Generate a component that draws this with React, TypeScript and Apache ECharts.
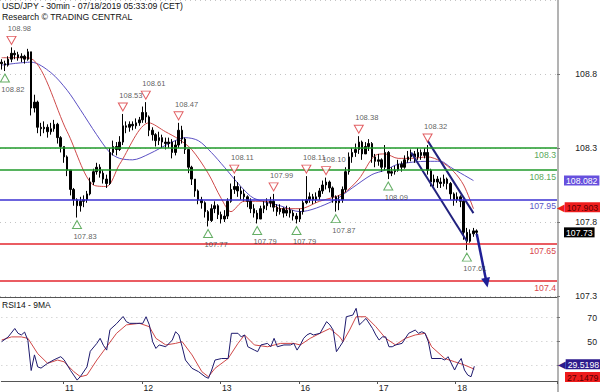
import React, { useEffect, useRef } from 'react';
import * as echarts from 'echarts';

const FONT = '"Liberation Sans", Arial, Helvetica, sans-serif';

// ---- x axis: hourly slots, day labels ----
const slotCount = 170;
const dayLabels = ['11', '12', '13', '16', '17', '18'];
const dayStartIdx = [19, 43, 67, 91, 115, 139];

// ---- price (USD/JPY), one bar per hour ----
const firstOpen = 108.88;
const closes = [
  108.87, 108.86, 108.9, 108.94, 108.93, 108.91, 108.92, 108.9, 108.95, 108.57,
  108.61, 108.44, 108.43, 108.44, 108.41, 108.43, 108.46, 108.37, 108.31, 108.24,
  108.15, 108.02, 107.95, 107.91, 107.94, 107.95, 107.99, 108.07, 108.14, 108.17,
  108.13, 108.09, 108.06, 108.27, 108.31, 108.29, 108.34, 108.45, 108.44, 108.46,
  108.45, 108.47, 108.49, 108.54, 108.51, 108.42, 108.39, 108.35, 108.37, 108.34,
  108.33, 108.34, 108.27, 108.32, 108.42, 108.36, 108.29, 108.17, 108.09, 108.01,
  107.95, 107.93, 107.87, 107.81, 107.89, 107.91, 107.85, 107.82, 107.84, 107.94,
  108.02, 108.04, 108.01, 107.99, 107.97, 107.94, 107.89, 107.86, 107.82, 107.89,
  107.91, 107.93, 107.94, 107.9, 107.87, 107.89, 107.86, 107.88, 107.86, 107.84,
  107.82, 107.87, 107.93, 107.95, 107.97, 107.95, 107.97, 108.01, 108.05, 108.07,
  108.03, 107.97, 107.93, 107.95, 108.02, 108.14, 108.24, 108.27, 108.29, 108.34,
  108.26, 108.31, 108.33, 108.24, 108.21, 108.22, 108.17, 108.27, 108.13, 108.14,
  108.15, 108.19, 108.17, 108.22, 108.24, 108.26, 108.24, 108.27, 108.25, 108.27,
  108.15, 108.07, 108.09, 108.07, 108.06, 108.09, 108.06, 107.99, 107.95, 107.97,
  107.94, 107.73, 107.67, 107.72, 107.74, 107.73,
];
const highs = [
  108.9, 108.89, 108.92, 108.98, 108.96, 108.95, 108.94, 108.93, 108.97, 108.95,
  108.66, 108.62, 108.47, 108.48, 108.46, 108.47, 108.49, 108.47, 108.38, 108.31,
  108.25, 108.15, 108.03, 107.96, 107.97, 107.98, 108.01, 108.1, 108.16, 108.2,
  108.19, 108.15, 108.12, 108.3, 108.35, 108.34, 108.38, 108.53, 108.48, 108.48,
  108.48, 108.5, 108.51, 108.58, 108.61, 108.52, 108.44, 108.4, 108.41, 108.39,
  108.37, 108.37, 108.36, 108.35, 108.47, 108.45, 108.37, 108.29, 108.18, 108.09,
  108.02, 107.97, 107.94, 107.88, 107.92, 107.94, 107.92, 107.87, 107.88, 107.96,
  108.06, 108.11, 108.07, 108.04, 108.02, 107.98, 107.96, 107.92, 107.88, 107.91,
  107.94, 107.96, 107.97, 107.99, 107.92, 107.92, 107.9, 107.91, 107.9, 107.88,
  107.86, 107.89, 107.95, 108.11, 108.0, 107.99, 108.0, 108.03, 108.08, 108.1,
  108.08, 108.04, 107.98, 107.98, 108.04, 108.17, 108.27, 108.3, 108.33, 108.38,
  108.35, 108.34, 108.36, 108.34, 108.26, 108.26, 108.23, 108.32, 108.28, 108.17,
  108.18, 108.22, 108.21, 108.25, 108.28, 108.29, 108.28, 108.3, 108.29, 108.3,
  108.32, 108.16, 108.12, 108.11, 108.1, 108.12, 108.1, 108.07, 108.0, 108.0,
  107.98, 107.95, 107.76, 107.75, 107.76, 107.75,
];
const lows = [
  108.83, 108.82, 108.85, 108.88, 108.9, 108.89, 108.88, 108.87, 108.89, 108.52,
  108.54, 108.4, 108.38, 108.4, 108.37, 108.39, 108.41, 108.33, 108.27, 108.2,
  108.11, 107.98, 107.91, 107.83, 107.87, 107.9, 107.93, 107.98, 108.05, 108.12,
  108.1, 108.06, 108.03, 108.05, 108.25, 108.25, 108.28, 108.32, 108.4, 108.41,
  108.42, 108.43, 108.45, 108.47, 108.47, 108.38, 108.35, 108.31, 108.32, 108.3,
  108.29, 108.3, 108.23, 108.25, 108.3, 108.33, 108.26, 108.13, 108.05, 107.97,
  107.92, 107.89, 107.83, 107.77, 107.8, 107.86, 107.82, 107.79, 107.8, 107.82,
  107.93, 107.99, 107.97, 107.95, 107.94, 107.9, 107.86, 107.83, 107.79, 107.82,
  107.86, 107.88, 107.9, 107.87, 107.84, 107.85, 107.83, 107.84, 107.83, 107.81,
  107.79, 107.8, 107.85, 107.92, 107.93, 107.92, 107.93, 107.95, 107.99, 108.02,
  108.0, 107.93, 107.87, 107.88, 107.93, 108.0, 108.12, 108.2, 108.24, 108.26,
  108.22, 108.26, 108.28, 108.2, 108.17, 108.18, 108.14, 108.15, 108.09, 108.11,
  108.12, 108.14, 108.14, 108.16, 108.2, 108.21, 108.2, 108.22, 108.22, 108.23,
  108.12, 108.04, 108.04, 108.03, 108.03, 108.04, 108.02, 107.95, 107.91, 107.93,
  107.9, 107.68, 107.61, 107.66, 107.7, 107.7,
];

// ---- moving averages on price, read at sample points [slot, value] ----
const redMa: [number, number][] = [
  [0, 108.91], [8, 108.91], [20, 108.41], [28, 108.05], [32, 108.04], [36, 108.19],
  [45, 108.47], [50, 108.41], [54, 108.36], [58, 108.29], [63, 108.13], [67, 107.96],
  [70, 107.87], [74, 107.94], [81, 107.94], [85, 107.89], [91, 107.89], [97, 107.94],
  [104, 107.99], [109, 108.09], [114, 108.25], [117, 108.26], [121, 108.23], [125, 108.23],
  [130, 108.24], [134, 108.21], [138, 108.14], [141, 108.05], [144, 107.89],
];
const blueMa: [number, number][] = [
  [0, 108.86], [9, 108.88], [15, 108.81], [20, 108.69], [24, 108.56], [29, 108.39],
  [33, 108.27], [36, 108.23], [40, 108.22], [45, 108.26], [52, 108.34], [56, 108.37],
  [60, 108.35], [64, 108.27], [68, 108.17], [73, 108.04], [77, 107.96], [85, 107.91],
  [91, 107.87], [101, 107.94], [107, 108.03], [113, 108.12], [117, 108.15], [121, 108.19],
  [130, 108.21], [134, 108.21], [137, 108.17], [144, 108.08],
];

// ---- support / resistance levels ----
const levels = [108.3, 108.15, 107.95, 107.65, 107.4];
const levelLineColors = ['#1f9a2a', '#1f9a2a', '#3b30d2', '#e3262e', '#e3262e'];
const levelTextColors = ['#5aa85a', '#5aa85a', '#5a55c6', '#d8464c', '#d8464c'];

// ---- swing highs / lows annotated ----
const swingHighs: [number, number][] = [
  [3, 108.98], [37, 108.53], [44, 108.61], [54, 108.47], [71, 108.11], [83, 107.99],
  [93, 108.11], [99, 108.1], [109, 108.38], [130, 108.32],
];
const swingLows: [number, number][] = [
  [1, 108.82], [23, 107.83], [63, 107.77], [78, 107.79], [90, 107.79], [102, 107.87],
  [118, 108.09], [142, 107.61],
];

// ---- channel and projection arrow ----
const channelTop: [number, number][] = [[130, 108.35], [144, 107.86]];
const channelBottom: [number, number][] = [[125, 108.27], [142, 107.67]];
const arrowFrom: [number, number] = [145, 107.72];
const arrowTo: [number, number] = [148, 107.39];

// ---- current values shown on the right ----
const lastClose = 107.73;
const blueMaLast = 108.082;
const redMaLast = 107.903;

// ---- RSI14 and its 9MA, read at sample points [slot, value] ----
const rsi14: [number, number][] = [
  [0, 50], [2, 54], [4, 61], [5, 57], [6, 55.6], [7, 58], [8, 51], [9, 26], [10, 39],
  [11, 29], [12, 28], [14, 32], [16, 35], [18, 37.5], [19, 35], [21, 26], [23, 18],
  [24, 21], [26, 29], [27, 42], [29, 48.6], [30, 52.8], [31, 47], [32, 43], [33, 60],
  [35, 65], [37, 71], [38, 66.7], [39, 65.3], [41, 65.3], [43, 65.3], [44, 70.8],
  [45, 64], [46, 50], [47, 44.4], [48, 47.3], [50, 45.8], [52, 51.4], [53, 58.3],
  [54, 55.6], [55, 45.8], [56, 34.7], [58, 27.8], [60, 25], [62, 20.8], [63, 19.5],
  [64, 26.4], [65, 34.7], [67, 36], [69, 36], [70, 57], [72, 57], [73, 54], [74, 55.6],
  [75, 45.8], [77, 43], [78, 41.7], [79, 47.3], [81, 48.6], [82, 45.8], [83, 52.8],
  [84, 45.8], [86, 47.3], [88, 47.3], [89, 48.6], [90, 43], [91, 47.3], [92, 52.8],
  [93, 55.6], [94, 57], [95, 55.6], [97, 57], [99, 66.7], [100, 64], [101, 59.7],
  [102, 41.7], [103, 45.8], [104, 50], [105, 70.8], [107, 72.2], [108, 77.8], [109, 64],
  [110, 66.7], [111, 69.4], [113, 61], [114, 55.6], [115, 51.4], [116, 54], [117, 54],
  [118, 45.8], [119, 45.8], [120, 47.3], [122, 48.6], [123, 52.8], [124, 57], [126, 59.7],
  [127, 57], [128, 58.3], [129, 57], [130, 50], [131, 36], [134, 36], [135, 34.7],
  [136, 37.5], [138, 26.4], [139, 32], [140, 36], [141, 26.4], [142, 22.2], [143, 20.8],
  [144, 29.5],
];
const rsiMa: [number, number][] = [
  [0, 51.4], [3, 54], [6, 54], [8, 52.8], [11, 40], [14, 32], [17, 34.7], [19, 33.3],
  [22, 25], [24, 20.8], [26, 22.2], [29, 34.7], [32, 45.8], [35, 57], [38, 64], [42, 65.3],
  [45, 62.5], [47, 52.8], [50, 47.3], [53, 48.6], [55, 50], [58, 39], [61, 25], [63, 20.8],
  [65, 27.8], [69, 36], [72, 48.6], [74, 55.6], [77, 47.3], [81, 45.8], [85, 48.6],
  [89, 48.6], [91, 47.3], [94, 52.8], [97, 57], [100, 61], [103, 54], [104, 50], [106, 59.7],
  [108, 70.8], [111, 70.8], [114, 62.5], [117, 52.8], [120, 47.3], [123, 52.8], [126, 55.6],
  [129, 57], [131, 45.8], [135, 36], [138, 33.3], [141, 30.6], [144, 27.1],
];
const rsiLast = 29.5198;
const rsiMaLast = 27.1479;
// the "30" tick label sits under the current-RSI box in the reference
const rsiHiddenTickLabels = [30];

const hiddenLine = { color: 'rgba(0,0,0,0)', width: 0, type: 'solid' };

const boxLabel = (text: string, bg: string, fg: string, arrow: boolean, offsetY = 0) => ({
  show: true,
  position: 'end',
  distance: arrow ? 0 : 7,
  offset: [0, offsetY],
  formatter: arrow ? `{a|◀}{b|${text}}` : `{b|${text}}`,
  rich: {
    a: { color: bg, fontSize: 10, fontFamily: 'DejaVu Sans', padding: [0, 0, 0, 0], lineHeight: 10 },
    b: { backgroundColor: bg, color: fg, fontSize: 8.7, fontFamily: FONT, padding: [1, 2, 0, 2], lineHeight: 9 },
  },
});

export default function App() {
  const ref = useRef<HTMLDivElement>(null);

  useEffect(() => {
    document.body.style.margin = '0';
    const chart = echarts.init(ref.current!, null, { renderer: 'svg' });

    const categories = Array.from({ length: slotCount }, (_, i) => 's' + i);
    const ohlc = closes.map((c, i) => [i === 0 ? firstOpen : closes[i - 1], c, lows[i], highs[i]]);

    const axisText = { fontSize: 8.7, color: '#222', fontFamily: FONT };

    const option: any = {
      animation: false,
      textStyle: { fontFamily: FONT },
      title: [
        { text: 'USD/JPY - 30min - 07/18/2019 05:33:09 (CET)', left: 2, top: 1, padding: 0, textStyle: { fontSize: 8.7, fontWeight: 'normal', color: '#111', fontFamily: FONT } },
        { text: 'Research © TRADING CENTRAL', left: 2, top: 12.5, padding: 0, textStyle: { fontSize: 8.7, fontWeight: 'normal', color: '#111', fontFamily: FONT } },
        { text: 'RSI14 - 9MA', left: 2, top: 300.5, padding: 0, textStyle: { fontSize: 8.5, fontWeight: 'normal', color: '#111', fontFamily: FONT } },
      ],
      grid: [
        // price panel
        { left: 0, right: 42, top: -4, bottom: 96 },
        // RSI panel: visible axis (30..70)
        { left: 0, right: 42, top: 317.7, bottom: 26.3 },
        // RSI panel: same pixel scale, wider range (10..90) for the plotted lines
        { left: 0, right: 42, top: 293.7, bottom: 2.3 },
      ],
      xAxis: [
        {
          type: 'category', gridIndex: 0, data: categories, boundaryGap: true, offset: 1,
          axisLine: { show: true, onZero: false, lineStyle: { color: '#555', width: 1 } },
          axisTick: { show: false }, axisLabel: { show: false }, splitLine: { show: false },
        },
        {
          type: 'category', gridIndex: 1, data: categories, boundaryGap: true, offset: 15.3,
          axisLine: { show: true, onZero: false, lineStyle: { color: '#555', width: 1 } },
          axisTick: { show: true, length: 3, interval: (i: number) => dayStartIdx.includes(i), lineStyle: { color: '#555' } },
          axisLabel: {
            interval: 0, margin: 2, align: 'left', ...axisText,
            formatter: (_v: string, i: number) => {
              const k = dayStartIdx.indexOf(i);
              return k >= 0 ? dayLabels[k] : '';
            },
          },
          splitLine: { show: false },
        },
        { type: 'category', gridIndex: 2, data: categories, boundaryGap: true, show: false },
      ],
      yAxis: [
        {
          type: 'value', gridIndex: 0, position: 'right', min: 107.3, max: 109.3, interval: 0.5,
          axisLine: { show: false },
          axisTick: { show: true, length: 3, lineStyle: { color: '#777' } },
          axisLabel: { formatter: (v: number) => v.toFixed(1), showMaxLabel: false, align: 'right', margin: 40, ...axisText },
          splitLine: { show: true, lineStyle: { color: '#c4c4c4', type: [1, 4], width: 1 } },
        },
        {
          type: 'value', gridIndex: 1, position: 'right', min: 30, max: 70, interval: 20,
          axisLine: { show: false },
          axisTick: { show: true, length: 3, lineStyle: { color: '#777' } },
          axisLabel: { formatter: (v: number) => (rsiHiddenTickLabels.includes(v) ? '' : String(v)), align: 'right', margin: 40, ...axisText },
          splitLine: { show: true, lineStyle: { color: '#c4c4c4', type: [1, 4], width: 1 } },
        },
        { type: 'value', gridIndex: 2, position: 'right', min: 10, max: 90, show: false, splitLine: { show: false } },
      ],
      graphic: [
        { type: 'line', shape: { x1: 558, y1: 0, x2: 558, y2: 392 }, style: { stroke: '#9a9a9a', lineWidth: 1.5 }, silent: true },
      ],
      series: [
        {
          type: 'line', xAxisIndex: 0, yAxisIndex: 0, data: blueMa, symbol: 'none', smooth: 0.3, silent: true, clip: false,
          lineStyle: { color: '#5b50c4', width: 1 }, z: 2,
          markLine: {
            silent: true, symbol: 'none', animation: false,
            data: [{ yAxis: blueMaLast, lineStyle: hiddenLine, label: boxLabel('108.082', '#6650dd', '#ffffff', false) }],
          },
        },
        {
          type: 'line', xAxisIndex: 0, yAxisIndex: 0, data: redMa, symbol: 'none', smooth: 0.3, silent: true, clip: false,
          lineStyle: { color: '#cf4a4a', width: 1 }, z: 2,
          markLine: {
            silent: true, symbol: 'none', animation: false,
            data: [{ yAxis: redMaLast, lineStyle: hiddenLine, label: boxLabel('107.903', '#ee1c1c', '#5a0000', true) }],
          },
        },
        {
          type: 'candlestick', xAxisIndex: 0, yAxisIndex: 0, data: ohlc, barWidth: 2, silent: true, clip: false, z: 3,
          itemStyle: { color: '#000', color0: '#000', borderColor: '#000', borderColor0: '#000', borderWidth: 1 },
          markLine: {
            silent: true, symbol: 'none', animation: false,
            data: [
              ...levels.map((v, k) => ({
                yAxis: v,
                lineStyle: { color: levelLineColors[k], width: 1.6, type: 'solid' },
                label: { show: true, position: 'insideEndBottom', distance: [1, 2], formatter: String(v), color: levelTextColors[k], fontSize: 8.7, fontFamily: FONT },
              })),
              { yAxis: lastClose, lineStyle: hiddenLine, label: boxLabel('107.73', '#000000', '#ffffff', false) },
            ],
          },
        },
        {
          type: 'line', xAxisIndex: 0, yAxisIndex: 0, data: channelTop, symbol: 'none', silent: true,
          lineStyle: { color: '#22227e', width: 2 }, z: 4,
        },
        {
          type: 'line', xAxisIndex: 0, yAxisIndex: 0, data: channelBottom, symbol: 'none', silent: true, clip: false,
          lineStyle: { color: '#22227e', width: 2 }, z: 4,
          markLine: {
            silent: true, animation: false, symbol: ['none', 'triangle'], symbolSize: [9, 10],
            lineStyle: { color: '#1f1f96', width: 2.5, type: 'solid' }, label: { show: false },
            data: [[{ coord: arrowFrom }, { coord: arrowTo }]],
          },
        },
        {
          type: 'scatter', xAxisIndex: 0, yAxisIndex: 0, data: swingHighs, clip: false, silent: true, z: 5,
          symbol: 'triangle', symbolRotate: 180, symbolSize: [9, 8], symbolOffset: [0, -7],
          itemStyle: { color: '#ffffff', borderColor: '#d9343a', borderWidth: 1 },
          label: { show: true, position: 'top', distance: 3, offset: [8, 0], formatter: (p: any) => p.value[1].toFixed(2), fontSize: 7.6, color: '#333', fontFamily: FONT },
        },
        {
          type: 'scatter', xAxisIndex: 0, yAxisIndex: 0, data: swingLows, clip: false, silent: true, z: 5,
          symbol: 'triangle', symbolSize: [9, 8], symbolOffset: [0, 7],
          itemStyle: { color: '#ffffff', borderColor: '#3e9a3e', borderWidth: 1 },
          label: { show: true, position: 'bottom', distance: 3, offset: [8, 0], formatter: (p: any) => p.value[1].toFixed(2), fontSize: 7.6, color: '#333', fontFamily: FONT },
        },
        {
          type: 'line', xAxisIndex: 2, yAxisIndex: 2, data: rsi14, symbol: 'none', clip: false, silent: true,
          lineStyle: { color: '#1e1a6e', width: 1 }, z: 3,
          markLine: {
            silent: true, symbol: 'none', animation: false,
            data: [{ yAxis: rsiLast, lineStyle: hiddenLine, label: boxLabel('29.5198', '#2d1b8c', '#ffffff', true, -2) }],
          },
        },
        {
          type: 'line', xAxisIndex: 2, yAxisIndex: 2, data: rsiMa, symbol: 'none', clip: false, silent: true,
          lineStyle: { color: '#d04848', width: 1 }, z: 2,
          markLine: {
            silent: true, symbol: 'none', animation: false,
            data: [{ yAxis: rsiMaLast, lineStyle: hiddenLine, label: boxLabel('27.1479', '#ee1c1c', '#5a0000', false, 8) }],
          },
        },
      ],
    };

    chart.setOption(option);
    return () => chart.dispose();
  }, []);

  return <div ref={ref} style={{ width: 600, height: 392 }} />;
}
